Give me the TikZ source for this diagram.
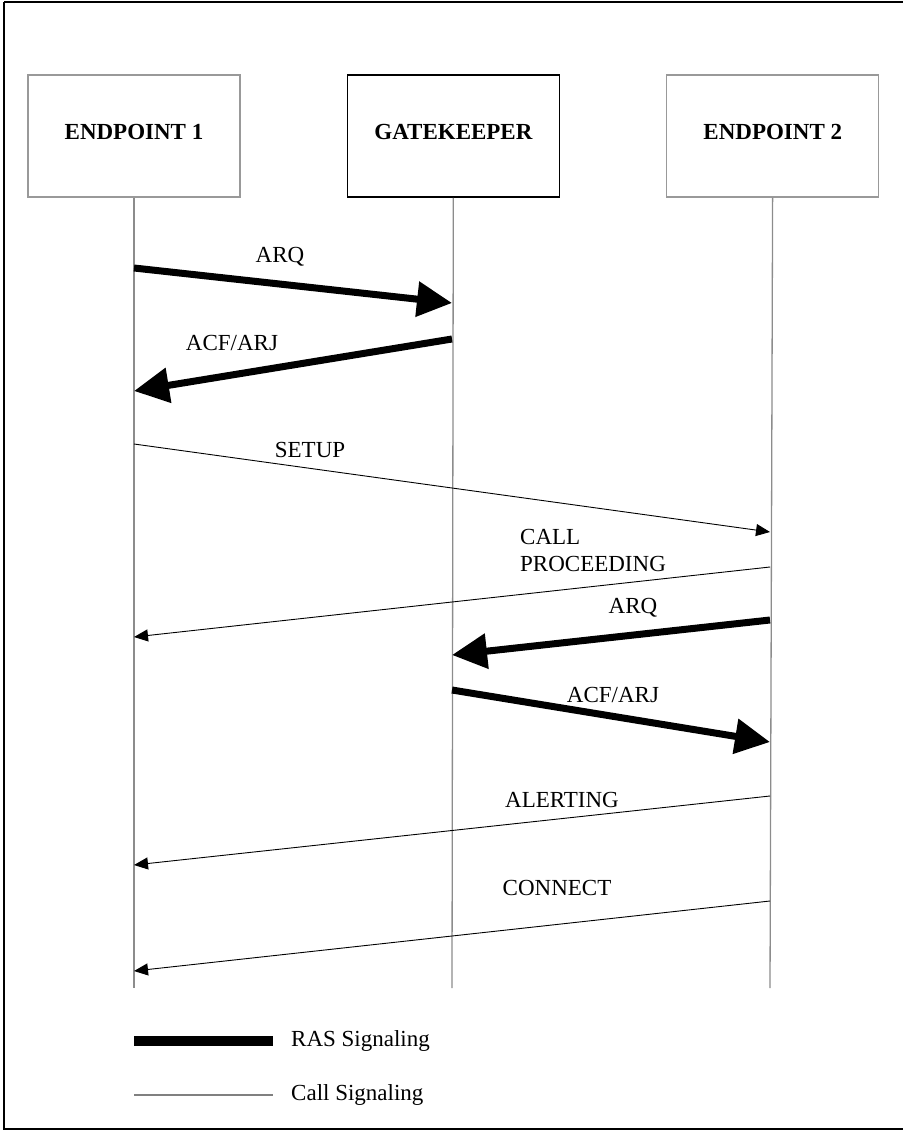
\documentclass[tikz,border=0pt]{standalone}
\usepackage{fontspec}
\setmainfont{Liberation Serif}
\usetikzlibrary{arrows.meta,positioning}
\tikzset{
  entity/.style = {rectangle, draw=black!40, line width=1.2pt, align=center,
    minimum width=212pt, minimum height=122pt, inner sep=0pt,
    font=\fontsize{23}{27}\selectfont\bfseries},% boite participant
  lifeline/.style = {draw=black!45, line width=1.3pt},% ligne de vie
  ras/.style = {line width=7pt, -{Triangle[length=35pt,width=34pt]}},% signalisation RAS
  call/.style = {line width=0.9pt, -{Triangle[length=14pt,width=12pt]}},% signalisation appel
  msg/.style = {inner sep=0pt, font=\fontsize{23}{27}\selectfont}% etiquette
}
\begin{document}
\begin{tikzpicture}[x=1pt,y=-1pt]
        \useasboundingbox (0,0) rectangle (902,1131);
        \draw[line width=2.5pt] (4,2) -- (4,1129) -- (910,1129);
        \draw[line width=2.5pt] (4,2) -- (910,2);

        \node [entity](EP1) at (134,136){\raisebox{9pt}{ENDPOINT 1}};
        \node [entity, draw=black, line width=1.6pt, right= 106pt of EP1](GK){\raisebox{9pt}{GATEKEEPER}};
        \node [entity, right= 106pt of GK](EP2){\raisebox{9pt}{ENDPOINT 2}};

        \coordinate (EP1end) at (134,988);
        \coordinate (GKend) at (452,988);
        \coordinate (EP2end) at (770,988);
        \draw [lifeline] (EP1) -- (EP1end);
        \draw [lifeline] (GK) -- (GKend);
        \draw [lifeline] (EP2) -- (EP2end);

        \coordinate (arqA) at (134,268);   \coordinate (arqB) at (452,303);
        \coordinate (acfA) at (452,339);   \coordinate (acfB) at (134,391);
        \coordinate (setupA) at (134,444); \coordinate (setupB) at (770,532);
        \coordinate (procA) at (770,567);  \coordinate (procB) at (134,637);
        \coordinate (arqC) at (770,620);   \coordinate (arqD) at (452,655);
        \coordinate (acfC) at (452,690);   \coordinate (acfD) at (770,742);
        \coordinate (alertA) at (770,796); \coordinate (alertB) at (134,865);
        \coordinate (connA) at (770,901);  \coordinate (connB) at (134,971);

        \draw [ras] (arqA) -- (arqB);
        \draw [ras] (acfA) -- (acfB);
        \draw [call] (setupA) -- (setupB);
        \draw [call] (procA) -- (procB);
        \draw [ras] (arqC) -- (arqD);
        \draw [ras] (acfC) -- (acfD);
        \draw [call] (alertA) -- (alertB);
        \draw [call] (connA) -- (connB);

        \node [msg] (arqL) at (280,257){ARQ};
        \node [msg] (acfL) at (232,343){ACF/ARJ};
        \node [msg] (setupL) at (310,450){SETUP};
        \node [msg, align=left, anchor=west] (procL) at (520,550){CALL\\PROCEEDING};
        \node [msg] (arqL2) at (633,608){ARQ};
        \node [msg] (acfL2) at (613,695){ACF/ARJ};
        \node [msg] (alertL) at (562,800){ALERTING};
        \node [msg] (connL) at (557,888){CONNECT};

        % legende
        \coordinate (rasA) at (134,1041);  \coordinate (rasB) at (273,1041);
        \coordinate (callA) at (134,1095); \coordinate (callB) at (273,1095);
        \draw [line width=10pt] (rasA) -- (rasB);
        \draw [line width=1.3pt, draw=black!50] (callA) -- (callB);
        \node [msg, anchor=west, right= 18pt of rasB] (rasL){RAS Signaling};
        \node [msg, anchor=west, right= 18pt of callB] (callL){Call Signaling};

        \end{tikzpicture}
\end{document}
